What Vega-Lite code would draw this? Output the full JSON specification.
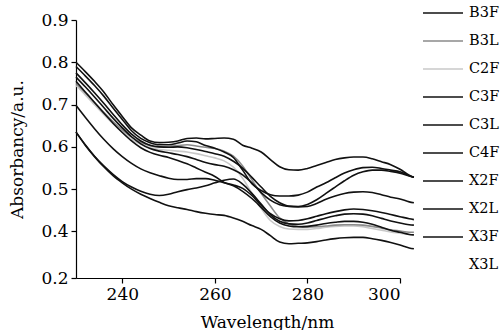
{
  "$schema": "https://vega.github.io/schema/vega-lite/v6.json",
  "width": 324,
  "height": 258,
  "autosize": {"type": "none"},
  "padding": {"left": 76, "top": 20, "right": 101, "bottom": 52},
  "background": "white",
  "config": {
    "view": {"stroke": null},
    "font": "DejaVu Serif",
    "axis": {"grid": false, "domainColor": "#000", "tickColor": "#000", "labelColor": "#000", "titleColor": "#000", "labelFont": "DejaVu Serif", "titleFont": "DejaVu Serif", "labelFontSize": 17, "titleFontSize": 17, "titleFontWeight": "normal", "tickSize": 5, "domainWidth": 1.2, "tickWidth": 1.2}
  },
  "data": {"values": [
    {"w":230,"B3F":0.800,"B3L":0.750,"C2F":0.745,"C3F":0.790,"C3L":0.775,"C4F":0.765,"X2F":0.755,"X2L":0.635,"X3F":0.698,"X3L":0.635},
    {"w":232,"B3F":0.778,"B3L":0.728,"C2F":0.723,"C3F":0.768,"C3L":0.752,"C4F":0.742,"X2F":0.730,"X2L":0.605,"X3F":0.670,"X3L":0.604},
    {"w":234,"B3F":0.755,"B3L":0.705,"C2F":0.700,"C3F":0.745,"C3L":0.728,"C4F":0.718,"X2F":0.705,"X2L":0.578,"X3F":0.643,"X3L":0.577},
    {"w":236,"B3F":0.730,"B3L":0.682,"C2F":0.677,"C3F":0.720,"C3L":0.703,"C4F":0.693,"X2F":0.680,"X2L":0.555,"X3F":0.618,"X3L":0.553},
    {"w":238,"B3F":0.700,"B3L":0.660,"C2F":0.655,"C3F":0.692,"C3L":0.677,"C4F":0.668,"X2F":0.656,"X2L":0.535,"X3F":0.596,"X3L":0.532},
    {"w":240,"B3F":0.672,"B3L":0.640,"C2F":0.635,"C3F":0.665,"C3L":0.652,"C4F":0.645,"X2F":0.634,"X2L":0.518,"X3F":0.577,"X3L":0.515},
    {"w":242,"B3F":0.645,"B3L":0.623,"C2F":0.618,"C3F":0.638,"C3L":0.630,"C4F":0.624,"X2F":0.614,"X2L":0.505,"X3F":0.561,"X3L":0.500},
    {"w":244,"B3F":0.628,"B3L":0.611,"C2F":0.606,"C3F":0.620,"C3L":0.614,"C4F":0.607,"X2F":0.598,"X2L":0.495,"X3F":0.548,"X3L":0.488},
    {"w":246,"B3F":0.614,"B3L":0.603,"C2F":0.598,"C3F":0.610,"C3L":0.604,"C4F":0.596,"X2F":0.587,"X2L":0.488,"X3F":0.539,"X3L":0.478},
    {"w":248,"B3F":0.610,"B3L":0.600,"C2F":0.594,"C3F":0.605,"C3L":0.600,"C4F":0.590,"X2F":0.580,"X2L":0.485,"X3F":0.532,"X3L":0.469},
    {"w":250,"B3F":0.611,"B3L":0.601,"C2F":0.592,"C3F":0.605,"C3L":0.599,"C4F":0.586,"X2F":0.575,"X2L":0.488,"X3F":0.526,"X3L":0.461},
    {"w":252,"B3F":0.614,"B3L":0.603,"C2F":0.590,"C3F":0.609,"C3L":0.600,"C4F":0.582,"X2F":0.568,"X2L":0.494,"X3F":0.523,"X3L":0.456},
    {"w":254,"B3F":0.620,"B3L":0.605,"C2F":0.588,"C3F":0.614,"C3L":0.598,"C4F":0.577,"X2F":0.560,"X2L":0.499,"X3F":0.523,"X3L":0.452},
    {"w":256,"B3F":0.621,"B3L":0.602,"C2F":0.584,"C3F":0.612,"C3L":0.594,"C4F":0.570,"X2F":0.550,"X2L":0.503,"X3F":0.525,"X3L":0.447},
    {"w":258,"B3F":0.619,"B3L":0.599,"C2F":0.579,"C3F":0.603,"C3L":0.589,"C4F":0.563,"X2F":0.540,"X2L":0.508,"X3F":0.525,"X3L":0.443},
    {"w":260,"B3F":0.620,"B3L":0.596,"C2F":0.574,"C3F":0.597,"C3L":0.584,"C4F":0.558,"X2F":0.530,"X2L":0.515,"X3F":0.521,"X3L":0.440},
    {"w":262,"B3F":0.621,"B3L":0.590,"C2F":0.567,"C3F":0.588,"C3L":0.578,"C4F":0.554,"X2F":0.516,"X2L":0.521,"X3F":0.515,"X3L":0.438},
    {"w":264,"B3F":0.618,"B3L":0.578,"C2F":0.552,"C3F":0.575,"C3L":0.566,"C4F":0.546,"X2F":0.510,"X2L":0.524,"X3F":0.508,"X3L":0.432},
    {"w":266,"B3F":0.604,"B3L":0.555,"C2F":0.526,"C3F":0.545,"C3L":0.550,"C4F":0.534,"X2F":0.502,"X2L":0.512,"X3F":0.495,"X3L":0.424},
    {"w":268,"B3F":0.597,"B3L":0.522,"C2F":0.490,"C3F":0.513,"C3L":0.528,"C4F":0.515,"X2F":0.485,"X2L":0.490,"X3F":0.478,"X3L":0.414},
    {"w":270,"B3F":0.588,"B3L":0.490,"C2F":0.455,"C3F":0.497,"C3L":0.505,"C4F":0.492,"X2F":0.462,"X2L":0.465,"X3F":0.457,"X3L":0.405},
    {"w":272,"B3F":0.570,"B3L":0.460,"C2F":0.426,"C3F":0.487,"C3L":0.483,"C4F":0.474,"X2F":0.442,"X2L":0.440,"X3F":0.435,"X3L":0.390},
    {"w":274,"B3F":0.553,"B3L":0.432,"C2F":0.412,"C3F":0.484,"C3L":0.468,"C4F":0.463,"X2F":0.430,"X2L":0.424,"X3F":0.420,"X3L":0.375},
    {"w":276,"B3F":0.546,"B3L":0.418,"C2F":0.406,"C3F":0.484,"C3L":0.460,"C4F":0.459,"X2F":0.425,"X2L":0.418,"X3F":0.413,"X3L":0.371},
    {"w":278,"B3F":0.545,"B3L":0.412,"C2F":0.405,"C3F":0.486,"C3L":0.459,"C4F":0.458,"X2F":0.426,"X2L":0.417,"X3F":0.411,"X3L":0.372},
    {"w":280,"B3F":0.549,"B3L":0.410,"C2F":0.405,"C3F":0.493,"C3L":0.464,"C4F":0.459,"X2F":0.430,"X2L":0.420,"X3F":0.412,"X3L":0.373},
    {"w":282,"B3F":0.556,"B3L":0.411,"C2F":0.407,"C3F":0.505,"C3L":0.475,"C4F":0.466,"X2F":0.436,"X2L":0.426,"X3F":0.415,"X3L":0.376},
    {"w":284,"B3F":0.563,"B3L":0.413,"C2F":0.410,"C3F":0.515,"C3L":0.490,"C4F":0.476,"X2F":0.442,"X2L":0.432,"X3F":0.419,"X3L":0.380},
    {"w":286,"B3F":0.570,"B3L":0.415,"C2F":0.412,"C3F":0.527,"C3L":0.505,"C4F":0.484,"X2F":0.447,"X2L":0.437,"X3F":0.422,"X3L":0.383},
    {"w":288,"B3F":0.574,"B3L":0.416,"C2F":0.413,"C3F":0.538,"C3L":0.520,"C4F":0.490,"X2F":0.451,"X2L":0.441,"X3F":0.424,"X3L":0.385},
    {"w":290,"B3F":0.576,"B3L":0.416,"C2F":0.413,"C3F":0.546,"C3L":0.533,"C4F":0.493,"X2F":0.453,"X2L":0.442,"X3F":0.424,"X3L":0.386},
    {"w":292,"B3F":0.576,"B3L":0.415,"C2F":0.411,"C3F":0.551,"C3L":0.541,"C4F":0.494,"X2F":0.452,"X2L":0.441,"X3F":0.422,"X3L":0.386},
    {"w":294,"B3F":0.572,"B3L":0.412,"C2F":0.407,"C3F":0.552,"C3L":0.545,"C4F":0.492,"X2F":0.449,"X2L":0.437,"X3F":0.417,"X3L":0.383},
    {"w":296,"B3F":0.565,"B3L":0.408,"C2F":0.403,"C3F":0.549,"C3L":0.545,"C4F":0.487,"X2F":0.445,"X2L":0.431,"X3F":0.410,"X3L":0.379},
    {"w":298,"B3F":0.558,"B3L":0.404,"C2F":0.399,"C3F":0.545,"C3L":0.542,"C4F":0.481,"X2F":0.440,"X2L":0.425,"X3F":0.403,"X3L":0.374},
    {"w":300,"B3F":0.547,"B3L":0.401,"C2F":0.396,"C3F":0.541,"C3L":0.538,"C4F":0.477,"X2F":0.435,"X2L":0.420,"X3F":0.398,"X3L":0.368},
    {"w":302,"B3F":0.533,"B3L":0.398,"C2F":0.393,"C3F":0.532,"C3L":0.531,"C4F":0.470,"X2F":0.430,"X2L":0.416,"X3F":0.393,"X3L":0.361},
    {"w":303,"B3F":0.528,"B3L":0.398,"C2F":0.392,"C3F":0.528,"C3L":0.528,"C4F":0.468,"X2F":0.428,"X2L":0.415,"X3F":0.392,"X3L":0.359}
  ]},
  "transform": [
    {"fold": ["C2F", "B3L", "B3F", "C3F", "C3L", "C4F", "X2F", "X2L", "X3F", "X3L"], "as": ["series", "absorbancy"]}
  ],
  "encoding": {
    "x": {
      "field": "w", "type": "quantitative",
      "scale": {"domain": [230, 300], "nice": false, "zero": false},
      "axis": {"values": [240, 260, 280, 300], "title": "Wavelength/nm", "labelPadding": 3, "titleX": 191, "titleY": 49, "titleAlign": "center", "titleBaseline": "alphabetic"}
    },
    "y": {
      "field": "absorbancy", "type": "quantitative",
      "scale": {"domain": [0.29, 0.9], "nice": false, "zero": false},
      "axis": {"values": [0.29, 0.4, 0.5, 0.6, 0.7, 0.8, 0.9], "labelExpr": "datum.value < 0.3 ? '0.2' : format(datum.value, '.1f')", "title": "Absorbancy/a.u.", "labelPadding": 3, "titlePadding": 14}
    }
  },
  "layer": [
    {
      "mark": {"type": "line", "strokeWidth": 1.6, "interpolate": "monotone"},
      "encoding": {
        "stroke": {
          "field": "series", "type": "nominal",
          "scale": {
            "domain": ["B3F", "B3L", "C2F", "C3F", "C3L", "C4F", "X2F", "X2L", "X3F", "X3L"],
            "range": ["#111111", "#8a8a8a", "#c8c8c8", "#111111", "#111111", "#111111", "#111111", "#111111", "#111111", "transparent"]
          },
          "legend": {
            "title": null, "orient": "none", "legendX": 346, "legendY": -28,
            "symbolType": "stroke", "symbolSize": 1600, "symbolStrokeWidth": 1.6,
            "labelFont": "DejaVu Serif", "labelFontSize": 14.5, "labelColor": "#000", "labelOffset": 5,
            "rowPadding": -0.8
          }
        }
      }
    },
    {
      "transform": [{"filter": "datum.series === 'X3L'"}],
      "mark": {"type": "line", "strokeWidth": 1.6, "interpolate": "monotone", "color": "#111111"},
      "encoding": {}
    }
  ]
}
